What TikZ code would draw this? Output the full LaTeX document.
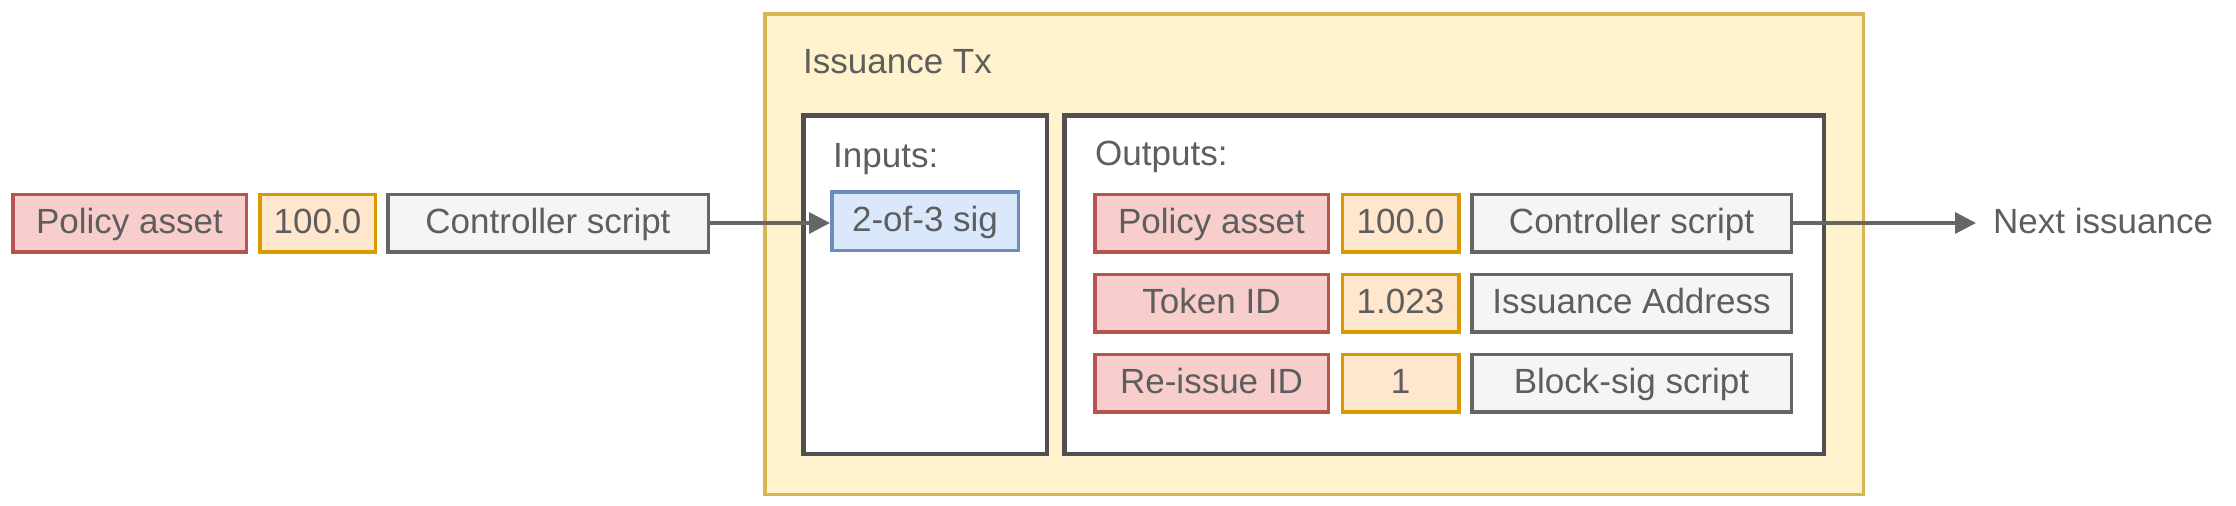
\documentclass[tikz,border=0pt]{standalone}
\usepackage{fontspec}
\setmainfont{Liberation Sans}
\usetikzlibrary{arrows.meta}
\definecolor{txt}{HTML}{5E5E5E}
\definecolor{redF}{HTML}{F8CECC}\definecolor{redS}{HTML}{B85450}
\definecolor{orgF}{HTML}{FFE6CC}\definecolor{orgS}{HTML}{D79B00}
\definecolor{gryF}{HTML}{F5F5F5}\definecolor{gryS}{HTML}{666666}
\definecolor{bluF}{HTML}{DAE8FC}\definecolor{bluS}{HTML}{6C8EBF}
\definecolor{ylwF}{HTML}{FFF2CC}\definecolor{ylwS}{HTML}{D6B656}
\definecolor{frmS}{HTML}{505050}
\tikzset{
  base/.style={draw, line width=3.5pt, inner sep=0pt, minimum height=57.5pt,
    font=\fontsize{35}{42}\selectfont, text=txt, text height=25pt, text depth=5pt},
  redbox/.style={base, fill=redF, draw=redS},
  orgbox/.style={base, fill=orgF, draw=orgS},
  grybox/.style={base, fill=gryF, draw=gryS},
  blubox/.style={base, fill=bluF, draw=bluS},
  frame/.style={draw=frmS, fill=white, line width=4.5pt, inner sep=0pt},
  lbl/.style={anchor=base west, inner sep=0pt, text=txt, font=\fontsize{35}{42}\selectfont},
  conn/.style={draw=gryS, line width=3.5pt, -{Triangle[length=21pt,width=21pt]}},
}
\begin{document}
\begin{tikzpicture}[x=1pt,y=-1pt]
\useasboundingbox (0,0) rectangle (2236,506);
% outer container
\node[draw=ylwS, fill=ylwF, line width=3.5pt, inner sep=0pt, minimum width=1098.5pt, minimum height=480.5pt] (tx) at (1314,254) {};
\node[lbl] (txl) at (803,73) {Issuance Tx};
% inputs / outputs frames
\node[frame, minimum width=243.5pt, minimum height=338.5pt] (inp) at (925,284.5) {};
\node[frame, minimum width=759.5pt, minimum height=338.5pt] (out) at (1444,284.5) {};
\node[lbl] (inl) at (833,167) {Inputs:};
\node[lbl] (outl) at (1095,165) {Outputs:};
% left row
\node[redbox, minimum width=233.5pt] (paL) at (129.5,223) {Policy asset};
\node[orgbox, minimum width=115.5pt] (amL) at (317.5,223) {100.0};
\node[grybox, minimum width=320.5pt] (csL) at (548,223) {Controller script};
% input
\node[blubox, minimum width=186.5pt, minimum height=58.5pt] (sig) at (925,221) {2-of-3 sig};
% outputs
\node[redbox, minimum width=233.5pt] (pa1) at (1211.5,223) {Policy asset};
\node[orgbox, minimum width=116.5pt] (am1) at (1400.5,223) {100.0};
\node[grybox, minimum width=319.5pt] (cs1) at (1631.5,223) {Controller script};
\node[redbox, minimum width=233.5pt] (pa2) at (1211.5,303) {Token ID};
\node[orgbox, minimum width=116.5pt] (am2) at (1400.5,303) {1.023};
\node[grybox, minimum width=319.5pt] (cs2) at (1631.5,303) {Issuance Address};
\node[redbox, minimum width=233.5pt] (pa3) at (1211.5,383) {Re-issue ID};
\node[orgbox, minimum width=116.5pt] (am3) at (1400.5,383) {1};
\node[grybox, minimum width=319.5pt] (cs3) at (1631.5,383) {Block-sig script};
% next
\node[anchor=west, inner sep=0pt, inner xsep=17pt, text=txt, font=\fontsize{35}{42}\selectfont, text height=25pt, text depth=5pt] (next) at (1976,223) {Next issuance};
% connectors
\draw[conn] (csL.east) -- (csL.east -| sig.west);
\draw[conn] (cs1.east) -- (next.west);
\end{tikzpicture}
\end{document}
